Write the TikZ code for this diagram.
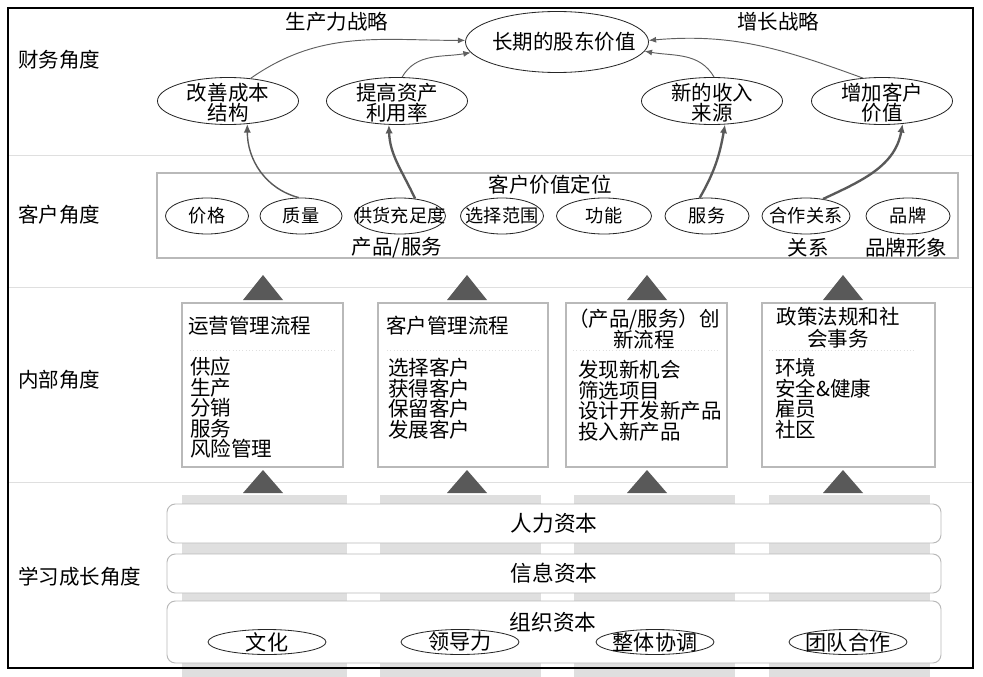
\documentclass[tikz,border=0pt]{standalone}
\usepackage{fontspec}
\setmainfont{Noto Sans CJK SC}
\usepackage{tikz}
\usetikzlibrary{arrows.meta,shapes.geometric}

\begin{document}
\begin{tikzpicture}[x=0.3mm, y=-0.3mm,
        every node/.style={font=\fontsize{17.5}{17.5}\selectfont, inner sep=0pt},
        oval/.style={ellipse, draw=black!85, line width=0.7pt},
        twoline/.style={align=center},
        lst/.style={align=left, anchor=north west},
        box/.style={draw=gray!55, line width=0.9pt},
        lane/.style={draw=gray!55, line width=0.8pt, rounded corners=2.5mm, fill=white, minimum width=232.2mm},
        arr/.style={-{Latex[length=2.2mm,width=1.8mm]}, gray!75!black, line width=0.8pt},
        bigarr/.style={-{Latex[length=2.6mm,width=2.2mm]}, gray!70!black, line width=2pt},
        tri/.style={fill=black!65},
        bar/.style={fill=gray!25},
        sep/.style={gray!25, line width=0.8pt}]
    \useasboundingbox (0,0) rectangle (983,677);
    \fill[white] (0,0) rectangle (983,677);
    \foreach \a/\b in {182/347,380/541,574/735,769/930}
        \fill[bar] (\a,495) rectangle (\b,677);
    \foreach \y in {155,287,482}
        \draw[sep] (9,\y) -- (973,\y);
    \draw[line width=1.6pt] (8,8) rectangle (973,668);

    % row labels
    \node[anchor=west] (rfin) at (18,60) {财务角度};
    \node[anchor=west] (rcus) at (18,215) {客户角度};
    \node[anchor=west] (rint) at (18,380) {内部角度};
    \node[anchor=west] (rlrn) at (18,577) {学习成长角度};

    % financial
    \node (prod) at (337,22) {生产力战略};
    \node (grow) at (778,22) {增长战略};
    \node[oval, minimum width=54.9mm, minimum height=18.3mm] (lsv) at (557,42) {};
    \node (lsv-t) at (564,42) {长期的股东价值};
    \foreach \n/\x/\t in {cost/228/改善成本\\结构, asset/397/提高资产\\利用率,
            revenue/712/新的收入\\来源, custval/882/增加客户\\价值} {
        \node[oval, minimum width=42.3mm, minimum height=14.1mm] (\n) at (\x,101) {};
        \node[twoline, font=\fontsize{17.5}{17}\selectfont] (\n-t) at (\x,103) {\t};
    }
    \draw[arr] (cost.45) to[out=35,in=180] (lsv.179);
    \draw[arr] (asset.78) to[out=60,in=190] (lsv.187);
    \draw[arr] (revenue.85) to[out=120,in=-10] (lsv.-6);
    \draw[arr] (custval.130) to[out=160,in=5] (lsv.1);

    % customer
    \node[box, minimum width=240.3mm, minimum height=25.5mm] (cvp) at (557.5,215.5) {};
    \node (cvp-t) at (550,185) {客户价值定位};
    \foreach \n/\x/\w/\t in {price/207/83/价格, quality/301/82/质量, supply/400/91/供货充足度,
            range/502/83/选择范围, func/604/95/功能, service/707/84/服务,
            partner/806/88/合作关系, brand/908/84/品牌} {
        \node[oval, minimum width=\w*0.3mm, minimum height=10.8mm] (\n) at (\x,216) {};
        \node[font=\fontsize{15.5}{16}\selectfont] (\n-t) at (\x,216) {\t};
    }
    \node (prodsvc) at (397,248) {产品/服务};
    \node (rel) at (808,248) {关系};
    \node (image) at (906,248) {品牌形象};
    \draw[bigarr, line width=1.2pt] (quality.97) to[out=165,in=-90] (cost.-50);
    \draw[bigarr] (supply.49) to[out=115,in=-88] (asset.-109);
    \draw[bigarr] (service.112) to[out=60,in=-100] (revenue.-61);
    \draw[bigarr] (partner.45) to[out=25,in=-100] (custval.-48);

    % internal
    \foreach \x in {263,467,647,843} {
        \fill[tri] (\x-20,300) -- (\x+20,300) -- (\x,275) -- cycle;
        \fill[tri] (\x-20,493) -- (\x+20,493) -- (\x,470) -- cycle;
    }
    \node[box, minimum width=48.3mm, minimum height=49.2mm] (ops) at (262.5,385) {};
    \node[box, minimum width=51mm, minimum height=49.2mm] (crm) at (463,385) {};
    \node[box, minimum width=48.3mm, minimum height=49.2mm] (innov) at (646.5,385) {};
    \node[box, minimum width=51.9mm, minimum height=49.2mm] (reg) at (848.5,385) {};
    \node[anchor=west] (ops-t) at (188,326) {运营管理流程};
    \node[anchor=west] (crm-t) at (386,326) {客户管理流程};
    \node[twoline, font=\fontsize{17.5}{18}\selectfont] (innov-t) at (644,329) {（产品/服务）创\\新流程};
    \node[twoline, font=\fontsize{17.5}{19}\selectfont] (reg-t) at (838,328) {政策法规和社\\会事务};
    \draw[sep, dotted] (190,350) -- (336,350);
    \draw[sep, dotted] (387,350) -- (540,350);
    \draw[sep, dotted] (573,350) -- (719,350);
    \draw[sep, dotted] (769,350) -- (915,350);
    \node[lst] (ops-l) at (190,357) {供应\\生产\\分销\\服务\\风险管理};
    \node[lst] (crm-l) at (388,358) {选择客户\\获得客户\\保留客户\\发展客户};
    \node[lst] (innov-l) at (578,360) {发现新机会\\筛选项目\\设计开发新产品\\投入新产品};
    \node[lst] (reg-l) at (775,358) {环境\\安全\&健康\\雇员\\社区};

    % learning and growth
    \node[lane, minimum height=11.7mm, font=\fontsize{18.5}{19}\selectfont] (hum) at (554,523.5) {人力资本};
    \node[lane, minimum height=11.7mm, font=\fontsize{18.5}{19}\selectfont] (info) at (554,573.5) {信息资本};
    \node[lane, minimum height=18.6mm] (org) at (554,632) {};
    \node[font=\fontsize{18.5}{19}\selectfont] (org-t) at (553,622) {组织资本};
    \foreach \n/\x/\t in {culture/267/文化, lead/460/领导力, coord/655/整体协调, team/848/团队合作} {
        \node[oval, minimum width=35.4mm, minimum height=7.5mm] (\n) at (\x,642) {};
        \node[font=\fontsize{18}{18}\selectfont] (\n-t) at (\x,642) {\t};
    }
\end{tikzpicture}
\end{document}
